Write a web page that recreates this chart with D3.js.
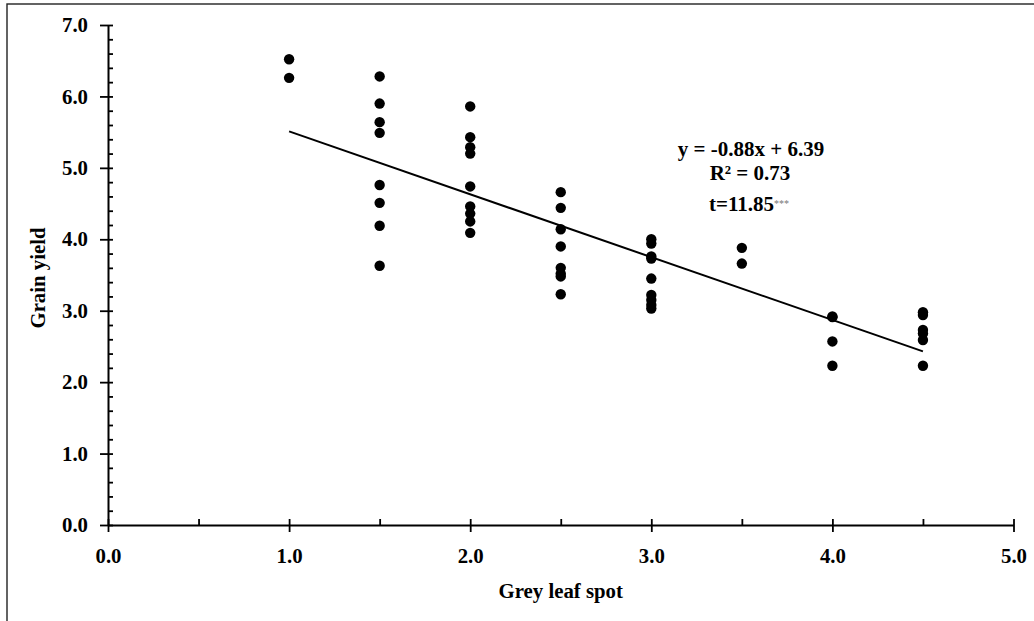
<!DOCTYPE html>
<html>
<head>
<meta charset="utf-8">
<script src="https://cdn.jsdelivr.net/npm/d3@7"></script>
<style>
  html, body { margin: 0; padding: 0; background: #fff; }
  svg { display: block; }
  text { font-family: "Liberation Serif", "Times New Roman", serif; font-weight: bold; }
</style>
</head>
<body>
<svg id="chart" width="1034" height="621"></svg>
<script>
// ---- data ----
const greyLeafSpot = [
  1.0, 1.0,
  1.5, 1.5, 1.5, 1.5, 1.5, 1.5, 1.5, 1.5,
  2.0, 2.0, 2.0, 2.0, 2.0, 2.0, 2.0, 2.0, 2.0,
  2.5, 2.5, 2.5, 2.5, 2.5, 2.5, 2.5, 2.5,
  3.0, 3.0, 3.0, 3.0, 3.0, 3.0, 3.0, 3.0, 3.0,
  3.5, 3.5,
  4.0, 4.0, 4.0, 4.0,
  4.5, 4.5, 4.5, 4.5, 4.5, 4.5
];
const grainYield = [
  6.52, 6.26,
  6.28, 5.90, 5.64, 5.49, 4.76, 4.51, 4.19, 3.63,
  5.86, 5.43, 5.29, 5.20, 4.74, 4.46, 4.36, 4.25, 4.09,
  4.66, 4.44, 4.14, 3.90, 3.60, 3.52, 3.48, 3.23,
  4.00, 3.94, 3.76, 3.73, 3.45, 3.22, 3.15, 3.08, 3.03,
  3.88, 3.66,
  2.92, 2.91, 2.57, 2.23,
  2.98, 2.94, 2.73, 2.68, 2.59, 2.23
];
const slope = -0.88;
const intercept = 6.39;
const fitRange = [1.0, 4.5];
const xTicks = [0, 1, 2, 3, 4, 5];
const xMinorTicks = [0.5, 1.5, 2.5, 3.5, 4.5];
const yTicks = [0, 1, 2, 3, 4, 5, 6, 7];
const yMinorTicks = d3.range(0, 35).map(i => i / 5).filter(v => !Number.isInteger(Math.round(v * 1000) / 1000));
const xTitle = "Grey leaf spot";
const yTitle = "Grain yield";
const eqLines = ["y = -0.88x + 6.39", "R\u00b2 = 0.73", "t=11.85"];
const sigMark = "***";

// ---- layout ----
const svg = d3.select("#chart");
const mLeft = 108, mRight = 1013.5, mTop = 25, mBottom = 525;
const fs = "20.8px";

const x = d3.scaleLinear().domain([0, 5]).range([mLeft, mRight]);
const y = d3.scaleLinear().domain([0, 7]).range([mBottom, mTop]);
const fmt = d3.format(".1f");

// frame (only left/top visible in reference)
svg.append("rect")
  .attr("x", 7).attr("y", 4).attr("width", 1040).attr("height", 640)
  .attr("fill", "none").attr("stroke", "#222").attr("stroke-width", 1.4);

function styleAxis(g) {
  g.attr("font-family", null).attr("font-size", null);
  g.selectAll("path.domain").attr("stroke", "#000").attr("stroke-width", 2);
  g.selectAll(".tick line").attr("stroke", "#000").attr("stroke-width", 1.8);
  g.selectAll("text").attr("fill", "#000").style("font-size", fs)
    .style("font-family", '"Liberation Serif", "Times New Roman", serif').style("font-weight", "bold");
}

// y axis: outward major ticks with labels
svg.append("g").attr("transform", `translate(${mLeft},0)`)
  .call(d3.axisLeft(y).tickValues(yTicks).tickSize(8).tickPadding(12).tickFormat(fmt).tickSizeOuter(0))
  .call(styleAxis);
// y axis inner ticks (major + minor)
svg.append("g").attr("transform", `translate(${mLeft},0)`)
  .call(d3.axisRight(y).tickValues(yTicks.concat(yMinorTicks)).tickSize(5).tickFormat("").tickSizeOuter(0))
  .call(styleAxis)
  .call(g => g.select("path.domain").remove());

// x axis
svg.append("g").attr("transform", `translate(0,${mBottom})`)
  .call(d3.axisBottom(x).tickValues(xTicks).tickSize(7).tickPadding(16.5).tickFormat(fmt).tickSizeOuter(0))
  .call(styleAxis);
svg.append("g").attr("transform", `translate(0,${mBottom})`)
  .call(d3.axisTop(x).tickValues(xTicks.concat(xMinorTicks)).tickSize(6).tickFormat("").tickSizeOuter(0))
  .call(styleAxis)
  .call(g => g.select("path.domain").remove());

// axis titles
svg.append("text").attr("x", (mLeft + mRight) / 2).attr("y", 598)
  .attr("text-anchor", "middle").style("font-size", fs).text(xTitle);
svg.append("text").attr("transform", `translate(45,278) rotate(-90)`)
  .attr("text-anchor", "middle").style("font-size", fs).text(yTitle);

// regression line
svg.append("line")
  .attr("x1", x(fitRange[0])).attr("y1", y(slope * fitRange[0] + intercept))
  .attr("x2", x(fitRange[1])).attr("y2", y(slope * fitRange[1] + intercept))
  .attr("stroke", "#000").attr("stroke-width", 2);

// points
svg.append("g").selectAll("circle")
  .data(greyLeafSpot.map((d, i) => [d, grainYield[i]]))
  .join("circle")
  .attr("cx", d => x(d[0])).attr("cy", d => y(d[1])).attr("r", 5.2)
  .attr("fill", "#000");

// annotation
const ax = 750;
svg.append("text").attr("x", ax + 1).attr("y", 156).attr("text-anchor", "middle")
  .style("font-size", "21px").text(eqLines[0]);
svg.append("text").attr("x", ax).attr("y", 180).attr("text-anchor", "middle")
  .style("font-size", "21px").text(eqLines[1]);
const t3 = svg.append("text").attr("x", ax - 1).attr("y", 211).attr("text-anchor", "middle")
  .style("font-size", "21px");
t3.append("tspan").text(eqLines[2]);
t3.append("tspan").attr("dy", -4).style("font-size", "10px").style("font-weight", "normal")
  .attr("fill", "#777").text(sigMark);
</script>
</body>
</html>
